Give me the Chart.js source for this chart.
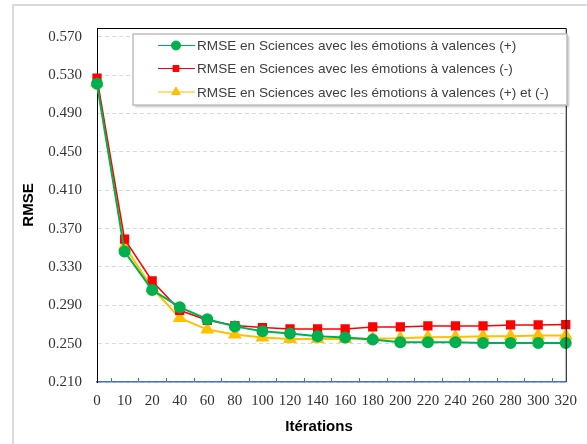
<!DOCTYPE html>
<html>
<head>
<meta charset="utf-8">
<script src="https://cdn.jsdelivr.net/npm/chart.js@4"></script>
<style>
  body { margin: 0; background: #fff; }
  #wrap { width: 587px; height: 444px; }
</style>
</head>
<body>
<div id="wrap"><canvas id="rmseChart" width="587" height="444"></canvas></div>
<script>
const iterations = ['0', '10', '20', '40', '60', '80', '100', '120', '140', '160', '180', '200', '220', '240', '260', '280', '300', '320'];
const rmsePlus = [0.521, 0.346, 0.306, 0.288, 0.2755, 0.268, 0.263, 0.2605, 0.2577, 0.2563, 0.2542, 0.2514, 0.2514, 0.2514, 0.2507, 0.2507, 0.2507, 0.2507];
const rmseMinus = [0.527, 0.359, 0.3154, 0.2848, 0.2744, 0.2689, 0.2668, 0.2653, 0.2653, 0.2653, 0.2674, 0.2674, 0.2685, 0.2685, 0.2685, 0.2695, 0.2695, 0.2699];
const rmseBoth = [0.522, 0.3517, 0.308, 0.2768, 0.2647, 0.2595, 0.2563, 0.2549, 0.2549, 0.2549, 0.2553, 0.2556, 0.2567, 0.257, 0.2577, 0.2577, 0.2584, 0.2584];
const yTicks = [0.210, 0.250, 0.290, 0.330, 0.370, 0.410, 0.450, 0.490, 0.530, 0.570];

const labelFont = '13.6px "Liberation Sans", Arial, sans-serif';
const legendRadius = [4.5, 4.2, 5];

// outer chart border, plot frame, Excel-style minor ticks, x title and the legend box
const excelBits = {
    id: 'excelBits',
    beforeDraw(chart) {
        const ctx = chart.ctx;
        ctx.save();
        ctx.strokeStyle = '#d9d9d9';
        ctx.lineWidth = 2;
        ctx.strokeRect(13, 5, 700, 600);
        ctx.restore();
    },
    afterDraw(chart) {
        const ctx = chart.ctx;
        const a = chart.chartArea;
        const x = chart.scales.x;
        ctx.save();
        // top and right frame
        ctx.strokeStyle = '#000';
        ctx.lineWidth = 1;
        ctx.beginPath();
        ctx.moveTo(a.left, a.top + 0.5);
        ctx.lineTo(a.right + 0.5, a.top + 0.5);
        ctx.lineTo(a.right + 0.5, a.bottom);
        ctx.stroke();
        // small tick marks between categories
        ctx.strokeStyle = '#4472c4';
        ctx.beginPath();
        for (let i = 0; i < iterations.length - 1; i++) {
            const px = Math.round((x.getPixelForValue(i) + x.getPixelForValue(i + 1)) / 2) + 0.5;
            ctx.moveTo(px, a.bottom);
            ctx.lineTo(px, a.bottom - 4);
        }
        ctx.stroke();

        // x axis title (sits a little left of centre in the original)
        ctx.fillStyle = '#000';
        ctx.font = 'bold 15px "Liberation Sans", Arial, sans-serif';
        ctx.textAlign = 'center';
        ctx.textBaseline = 'middle';
        ctx.fillText('Itérations', 319, 427);

        // legend
        const bx = 133, by = 34, bw = 434, bh = 71;
        ctx.shadowColor = 'rgba(0,0,0,0.25)';
        ctx.shadowOffsetX = 2;
        ctx.shadowOffsetY = 2;
        ctx.shadowBlur = 2;
        ctx.fillStyle = '#fff';
        ctx.fillRect(bx, by, bw, bh);
        ctx.shadowColor = 'transparent';
        ctx.strokeStyle = '#bfbfbf';
        ctx.lineWidth = 1.5;
        ctx.strokeRect(bx, by, bw, bh);
        const rows = [45.5, 68.5, 92];
        chart.data.datasets.forEach((ds, i) => {
            const cy = rows[i];
            ctx.strokeStyle = ds.borderColor;
            ctx.lineWidth = 1;
            ctx.beginPath();
            ctx.moveTo(158, cy);
            ctx.lineTo(195, cy);
            ctx.stroke();
            ctx.fillStyle = ds.backgroundColor;
            Chart.helpers.drawPoint(ctx, {
                pointStyle: ds.pointStyle,
                radius: legendRadius[i],
                borderWidth: 1,
                rotation: 0
            }, 176, cy);
            ctx.fillStyle = '#404040';
            ctx.font = labelFont;
            ctx.textBaseline = 'middle';
            ctx.textAlign = 'left';
            ctx.fillText(ds.label, 197, cy + 1);
        });
        ctx.restore();
    }
};

new Chart(document.getElementById('rmseChart'), {
    type: 'line',
    data: {
        labels: iterations,
        datasets: [{
            label: 'RMSE en Sciences avec les émotions à valences (+)',
            data: rmsePlus,
            borderColor: '#00b050',
            backgroundColor: '#00b050',
            borderWidth: 2,
            pointStyle: 'circle',
            pointRadius: 5,
            tension: 0
        }, {
            label: 'RMSE en Sciences avec les émotions à valences (-)',
            data: rmseMinus,
            borderColor: '#ff0000',
            backgroundColor: '#ff0000',
            borderWidth: 1.5,
            pointStyle: 'rect',
            pointRadius: 5.5,
            tension: 0
        }, {
            label: 'RMSE en Sciences avec les émotions à valences (+) et (-)',
            data: rmseBoth,
            borderColor: '#ffc000',
            backgroundColor: '#ffc000',
            borderWidth: 2,
            pointStyle: 'triangle',
            pointRadius: 6,
            tension: 0
        }]
    },
    options: {
        responsive: false,
        animation: false,
        layout: { padding: { top: 28, right: 12, left: 0, bottom: 0 } },
        scales: {
            x: {
                offset: false,
                afterFit: s => { s.height = 62; },
                grid: { display: false, drawTicks: false },
                border: { color: '#4472c4', width: 1.5 },
                ticks: {
                    autoSkip: false,
                    maxRotation: 0,
                    padding: 10,
                    color: '#333',
                    font: { family: '"Liberation Serif", "Times New Roman", serif', size: 15 }
                },
                title: { display: false }
            },
            y: {
                min: 0.21,
                max: 0.5792,
                afterFit: s => { s.width = 97; },
                afterBuildTicks: s => { s.ticks = yTicks.map(v => ({ value: v })); },
                grid: { color: '#d9d9d9', drawTicks: false },
                border: { color: '#000', width: 1, dash: [4, 3] },
                ticks: {
                    padding: 15,
                    color: '#333',
                    callback: v => v.toFixed(3),
                    font: { family: '"Liberation Serif", "Times New Roman", serif', size: 15 }
                },
                title: {
                    display: true,
                    text: 'RMSE',
                    color: '#000',
                    padding: { top: 20, bottom: 0 },
                    font: { family: '"Liberation Sans", Arial, sans-serif', size: 15, weight: 'bold' }
                }
            }
        },
        plugins: {
            legend: { display: false },
            tooltip: { enabled: false }
        }
    },
    plugins: [excelBits]
});
</script>
</body>
</html>
